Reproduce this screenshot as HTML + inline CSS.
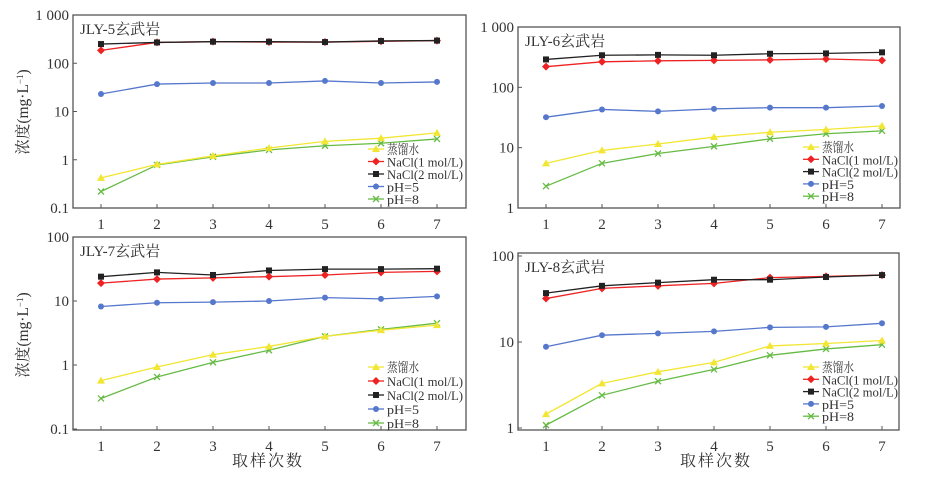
<!DOCTYPE html>
<html><head><meta charset="utf-8"><style>
body{margin:0;background:#fff;}
svg text{font-family:"Liberation Serif","Noto Serif CJK SC",serif;fill:#333;}
</style></head><body>
<svg id="s" width="930" height="474" xmlns="http://www.w3.org/2000/svg"></svg>
<script>
const S=document.getElementById('s');let h='';
const C={w:'#f2e632',n1:'#ee2222',n2:'#222222',p5:'#5577cc',p8:'#66bb44'};
const panels=[
{L:73,T:15,R:466,B:208,x1:101,ytop:15,ybot:208,lmin:-1,lmax:3,ticks:[[1000,'1 000'],[100,'100'],[10,'10'],[1,'1'],[0.1,'0.1']],title:'JLY-5玄武岩',lx:368,ly:149,sp:12.5,
d:{n2:[250,270,280,280,275,290,295],n1:[185,270,280,275,275,285,295],p5:[23,37,39,39,43,39,41],w:[0.42,0.8,1.2,1.75,2.4,2.8,3.6],p8:[0.22,0.78,1.15,1.6,1.95,2.2,2.7]}},
{L:518,T:27,R:900,B:208,x1:546,ytop:27,ybot:208,lmin:0,lmax:3,ticks:[[1000,'1 000'],[100,'100'],[10,'10'],[1,'1']],title:'JLY-6玄武岩',lx:803,ly:147,sp:12.3,
d:{n2:[290,340,345,340,360,365,380],n1:[220,265,275,280,285,295,280],p5:[32,43,40,44,46,46,49],w:[5.5,9,11.5,15,18,20,23],p8:[2.3,5.5,8,10.5,14,17,19]}},
{L:73,T:237,R:466,B:430,x1:101,ytop:237,ybot:429,lmin:-1,lmax:2,ticks:[[100,'100'],[10,'10'],[1,'1'],[0.1,'0.1']],title:'JLY-7玄武岩',lx:368,ly:367,sp:14,
d:{n2:[24,28,25.5,30,31.5,31.5,32],n1:[19,22,23,24,25.5,28,29],p5:[8.2,9.4,9.6,10,11.3,10.8,11.8],w:[0.57,0.93,1.45,1.95,2.8,3.5,4.2],p8:[0.3,0.65,1.1,1.7,2.8,3.6,4.5]}},
{L:518,T:253,R:899,B:430,x1:546,ytop:256,ybot:428,lmin:0,lmax:2,ticks:[[100,'100'],[10,'10'],[1,'1']],title:'JLY-8玄武岩',lx:803,ly:367,sp:12.3,
d:{n2:[37,45,49,53,53,57,60],n1:[32,42,45,48,56,58,60],p5:[8.8,12,12.6,13.3,14.8,15,16.5],w:[1.45,3.3,4.5,5.8,9,9.6,10.4],p8:[1.08,2.4,3.5,4.8,7,8.3,9.3]}}
];
function mk(k,x,y){const c=C[k];
 if(k=='w')return `<polygon points="${x},${y-4} ${x-4},${y+3} ${x+4},${y+3}" fill="${c}"/>`;
 if(k=='n1')return `<polygon points="${x},${y-4} ${x+4},${y} ${x},${y+4} ${x-4},${y}" fill="${c}"/>`;
 if(k=='n2')return `<rect x="${x-3}" y="${y-3}" width="6" height="6" fill="${c}"/>`;
 if(k=='p5')return `<circle cx="${x}" cy="${y}" r="3" fill="${c}"/>`;
 return `<path d="M${x-3},${y-3}L${x+3},${y+3}M${x+3},${y-3}L${x-3},${y+3}" stroke="${c}" stroke-width="1.3"/>`;}
for(const p of panels){
 const Y=v=>p.ybot-(Math.log10(v)-p.lmin)/(p.lmax-p.lmin)*(p.ybot-p.ytop);
 const X=i=>p.x1+i*56;
 h+=`<rect x="${p.L}" y="${p.T}" width="${p.R-p.L}" height="${p.B-p.T}" fill="none" stroke="#555" stroke-width="1.3"/>`;
 for(const [v,t] of p.ticks){const y=Y(v);h+=`<line x1="${p.L}" y1="${y}" x2="${p.L+4}" y2="${y}" stroke="#555"/><text x="${p.L-4}" y="${y+5}" font-size="15" text-anchor="end">${t}</text>`;}
 for(let i=0;i<7;i++){h+=`<line x1="${X(i)}" y1="${p.B}" x2="${X(i)}" y2="${p.B-4}" stroke="#555"/><text x="${X(i)}" y="${p.B+21}" font-size="15" text-anchor="middle">${i+1}</text>`;}
 h+=`<text x="${p.L+7}" y="${p.T+19}" font-size="15">${p.title}</text>`;
 for(const k of ['p5','p8','w','n1','n2']){const a=p.d[k];h+=`<polyline points="${a.map((v,i)=>X(i)+','+Y(v)).join(' ')}" fill="none" stroke="${C[k]}" stroke-width="1.3"/>`;a.forEach((v,i)=>h+=mk(k,X(i),Y(v)));}
 const labs=[['w','蒸馏水'],['n1','NaCl(1 mol/L)'],['n2','NaCl(2 mol/L)'],['p5','pH=5'],['p8','pH=8']];
 labs.forEach(([k,t],j)=>{const y=p.ly+j*p.sp;h+=`<line x1="${p.lx}" y1="${y}" x2="${p.lx+16}" y2="${y}" stroke="${C[k]}" stroke-width="1.3"/>`+mk(k,p.lx+8,y)+`<text x="${p.lx+19}" y="${y+5}" font-size="13" textLength="${t.length>6?76:(t.length>3?32:32)}" lengthAdjust="spacingAndGlyphs">${t}</text>`;});
}
h+=`<text transform="translate(28,112) rotate(-90)" font-size="15.5" text-anchor="middle">浓度(mg·L<tspan dy="-5" font-size="9">−1</tspan><tspan dy="5">)</tspan></text>`;
h+=`<text transform="translate(28,335) rotate(-90)" font-size="15.5" text-anchor="middle">浓度(mg·L<tspan dy="-5" font-size="9">−1</tspan><tspan dy="5">)</tspan></text>`;
h+=`<text x="268" y="466" font-size="16" text-anchor="middle" letter-spacing="2">取样次数</text>`;
h+=`<text x="716" y="466" font-size="16" text-anchor="middle" letter-spacing="2">取样次数</text>`;
S.innerHTML=h;
</script>
</body></html>
